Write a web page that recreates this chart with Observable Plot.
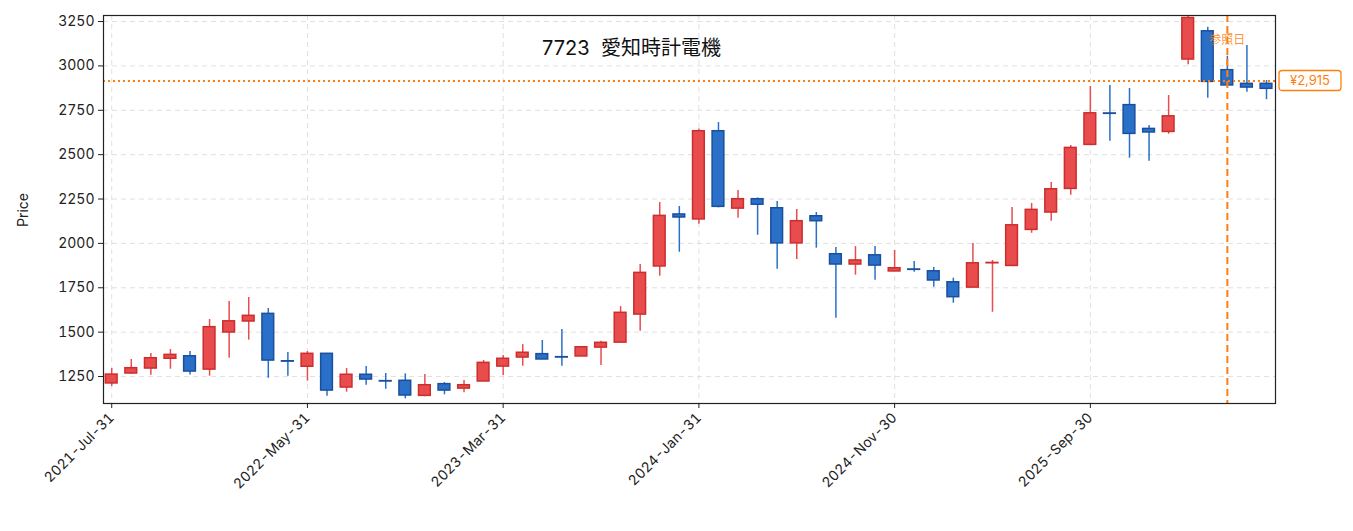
<!DOCTYPE html>
<html><head><meta charset="utf-8">
<script src="https://cdn.jsdelivr.net/npm/d3@7"></script>
<script src="https://cdn.jsdelivr.net/npm/@observablehq/plot@0.6"></script>
<style>body{margin:0;background:#fff}</style>
</head><body><div id="c"></div>
<script>
const opens  = [1211,1267,1295,1350,1364,1289,1498,1560,1603,1336,1305,1378,1188,1260,1224,1226,1141,1207,1182,1222,1306,1357,1376,1359,1363,1413,1441,1599,1870,2163,2135,2632,2196,2249,2198,2000,2153,1939,1881,1933,1842,1853,1843,1781,1751,1888,1873,2076,2174,2307,2555,2732,2779,2645,2628,3036,3195,2976,2899,2899];
const closes = [1261,1297,1353,1372,1278,1528,1561,1592,1340,1334,1378,1171,1260,1233,1222,1143,1201,1171,1201,1327,1350,1384,1346,1357,1415,1440,1609,1834,2155,2146,2632,2206,2249,2218,2000,2125,2125,1881,1904,1875,1860,1851,1791,1697,1888,1890,2102,2189,2305,2538,2733,2730,2617,2625,2716,3270,2910,2890,2878,2871];
const highs  = [1295,1346,1380,1402,1391,1571,1673,1695,1633,1385,1391,1378,1295,1306,1267,1265,1261,1216,1227,1340,1368,1430,1453,1515,1415,1449,1644,1881,2230,2208,2645,2681,2298,2256,2236,2191,2174,1977,1982,1982,1960,1898,1864,1804,2000,1904,2202,2225,2343,2551,2884,2889,2873,2664,2833,3300,3218,3054,3115,2918];
const lows   = [1194,1263,1257,1291,1259,1252,1353,1455,1240,1252,1224,1139,1162,1201,1178,1124,1136,1147,1158,1222,1256,1308,1346,1308,1363,1312,1441,1505,1815,1950,2108,2200,2142,2046,1855,1910,1973,1578,1821,1793,1842,1838,1753,1663,1751,1612,1873,2057,2125,2271,2555,2576,2480,2463,2615,3006,2818,2890,2852,2810];
const dates = opens.map((_, i) => d3.timeFormat("%Y-%b-%d")(new Date(2021, 7 + i, 0)));
const tickIdx = [0, 10, 20, 30, 40, 50];
const yTicks = [1250,1500,1750,2000,2250,2500,2750,3000,3250];
const refIndex = 57;
const refPrice = 2915;
const title = "7723  愛知時計電機";

const data = opens.map((o, i) => ({i, o, c: closes[i], h: highs[i], l: lows[i], up: closes[i] >= o}));
const RED = "#e84c4c", REDS = "#cc2e2e", BLUE = "#2b70c8", BLUES = "#1a4f9e";
const font = "Inter, 'Noto Sans CJK JP', sans-serif";

const chart = Plot.plot({
  width: 1353, height: 531,
  marginLeft: 103, marginRight: 78, marginTop: 15, marginBottom: 128,
  style: {fontFamily: font, fontSize: "14px", color: "#222", overflow: "visible"},
  x: {domain: [-0.42, 59.46], ticks: tickIdx, tickFormat: i => dates[i], tickRotate: -45, label: null, tickSize: 5},
  y: {domain: [1098, 3284], ticks: yTicks, tickFormat: d => String(d), label: null, tickSize: 5},
  marks: [
    Plot.gridX(tickIdx, {stroke: "#ccc", strokeOpacity: 0.6, strokeDasharray: "5,4"}),
    Plot.gridY(yTicks, {stroke: "#ccc", strokeOpacity: 0.6, strokeDasharray: "5,4"}),
    Plot.ruleX(data, {x: "i", y1: "l", y2: "h", stroke: d => d.up ? RED : BLUE, strokeWidth: 1.5, clip: true}),
    Plot.rect(data, {x1: d => d.i - 0.3, x2: d => d.i + 0.3, y1: d => Math.min(d.o, d.c), y2: d => Math.max(d.o, d.c),
      fill: d => d.up ? RED : BLUE, stroke: d => d.up ? REDS : BLUES, strokeWidth: 1.5, clip: true}),
    Plot.ruleY([refPrice], {stroke: "#ff7f0e", strokeWidth: 1.8, strokeDasharray: "2,3"}),
    Plot.ruleX([refIndex], {stroke: "#ff7f0e", strokeWidth: 2, strokeDasharray: "7,4"}),
    Plot.text([refIndex], {x: d => d, frameAnchor: "top", dy: 20, text: () => "参照日", fill: "#ff7f0e", fontSize: 12, fillOpacity: 0.85}),
    Plot.text([title], {frameAnchor: "top", dx: -58, dy: 25, text: d => d, fontSize: 20, fill: "#111"}),
    Plot.frame({stroke: "#222", strokeWidth: 1.2}),
  ]
});
const svg = d3.select(chart);
svg.append("text").attr("transform", "translate(28,210) rotate(-90)").attr("text-anchor", "middle")
  .attr("font-size", 14).text("Price");
const ys = chart.scale("y");
const ty = ys.apply(refPrice);
const g = svg.append("g").attr("transform", `translate(1279,${ty})`);
g.append("rect").attr("x", 0).attr("y", -10).attr("width", 62).attr("height", 20).attr("rx", 3)
  .attr("fill", "#fff").attr("stroke", "#ff7f0e").attr("stroke-width", 1.3);
g.append("text").attr("x", 31).attr("y", 5).attr("text-anchor", "middle").attr("font-size", 13)
  .attr("fill", "#ff7f0e").text("¥" + d3.format(",")(refPrice));
document.getElementById("c").appendChild(chart);
</script></body></html>
